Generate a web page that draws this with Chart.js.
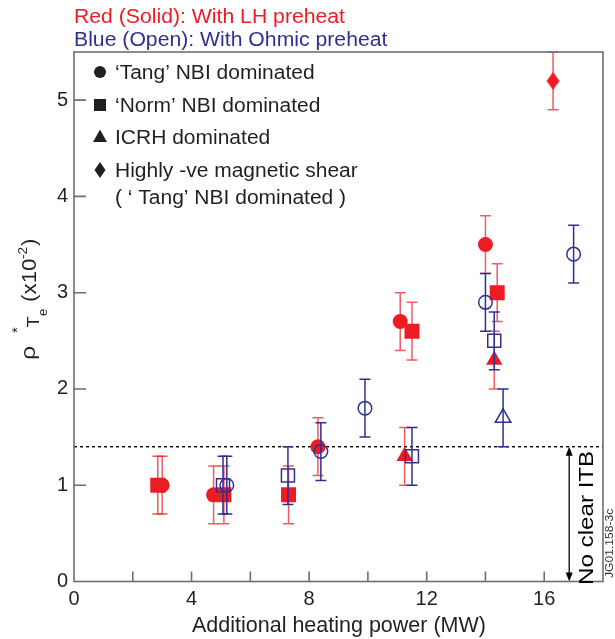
<!DOCTYPE html>
<html><head><meta charset="utf-8">
<script src="https://cdn.jsdelivr.net/npm/chart.js@4/dist/chart.umd.min.js"></script>
<style>html,body{margin:0;padding:0;background:#fff}canvas{display:block}</style>
</head><body>
<canvas id="c" width="615" height="639"></canvas>
<script>
// ---- data ----
const redCircleX = [3.0, 4.75, 8.3, 11.1, 14.0];
const redCircleY = [1.0, 0.9, 1.4, 2.7, 3.5];
const redCircleErr = [0.3, 0.3, 0.3, 0.3, 0.3];

const redSquareX = [2.85, 5.1, 7.3, 11.5, 14.4];
const redSquareY = [1.0, 0.9, 0.9, 2.6, 3.0];
const redSquareErr = [0.3, 0.3, 0.3, 0.3, 0.3];

const redTriangleX = [11.25, 14.3];
const redTriangleY = [1.3, 2.3];
const redTriangleErr = [0.3, 0.3];

const redDiamondX = [16.3];
const redDiamondY = [5.2];
const redDiamondErr = [0.3];

const blueCircleX = [5.2, 8.4, 9.9, 14.0, 17.0];
const blueCircleY = [1.0, 1.35, 1.8, 2.9, 3.4];
const blueCircleErr = [0.3, 0.3, 0.3, 0.3, 0.3];

const blueSquareX = [5.07, 7.28, 11.5, 14.3];
const blueSquareY = [1.0, 1.1, 1.3, 2.5];
const blueSquareErr = [0.3, 0.3, 0.3, 0.3];

const blueTriangleX = [14.6];
const blueTriangleY = [1.7];
const blueTriangleErr = [0.3];

const itbThreshold = 1.4;
const itbArrowX = 16.85;

const xTickLabels = [0, 4, 8, 12, 16];
const yTickLabels = [0, 1, 2, 3, 4, 5];

const titleRed = 'Red (Solid): With LH preheat';
const titleBlue = 'Blue (Open): With Ohmic preheat';
const legendLabels = ['\u2018Tang\u2019 NBI dominated', '\u2018Norm\u2019 NBI dominated', 'ICRH dominated', 'Highly -ve magnetic shear', '( \u2018 Tang\u2019 NBI dominated )'];
const xTitle = 'Additional heating power (MW)';
const itbLabel = 'No clear ITB';
const figId = 'JG01.158-3c';

// ---- styles ----
const RED = '#ed1c24';
const RED_ERR = 'rgba(237,28,36,0.72)';
const BLUE = '#2e3192';
const INK = '#231f20';
const FRAME = '#6d6e71';
const FONT = '"Liberation Sans", Arial, Helvetica, sans-serif';

function pts(xs, ys) { return xs.map((x, i) => ({ x: x, y: ys[i] })); }

// tall diamond point style
function diamondCanvas(w, h, fill) {
  const c = document.createElement('canvas');
  c.width = w + 2; c.height = h + 2;
  const g = c.getContext('2d');
  g.fillStyle = fill;
  g.beginPath();
  g.moveTo(c.width / 2, 1); g.lineTo(c.width - 1, c.height / 2);
  g.lineTo(c.width / 2, c.height - 1); g.lineTo(1, c.height / 2);
  g.closePath(); g.fill();
  return c;
}
const redDiamondImg = diamondCanvas(13, 18, RED);

function ds(label, xs, ys, errs, style, filled, color, errColor, radius, order) {
  return {
    label: label, data: pts(xs, ys), err: errs, errColor: errColor,
    pointStyle: style, pointRadius: radius, pointHoverRadius: radius,
    backgroundColor: filled ? color : 'rgba(0,0,0,0)',
    borderColor: color, borderWidth: filled ? 0 : 1.5,
    showLine: false, order: order
  };
}

const datasets = [
  ds('LH circle', redCircleX, redCircleY, redCircleErr, 'circle', true, RED, RED_ERR, 7.5, 2),
  ds('LH square', redSquareX, redSquareY, redSquareErr, 'rect', true, RED, RED_ERR, 10.6, 2),
  ds('LH triangle', redTriangleX, redTriangleY, redTriangleErr, 'triangle', true, RED, RED_ERR, 9.5, 2),
  ds('LH diamond', redDiamondX, redDiamondY, redDiamondErr, redDiamondImg, true, RED, RED_ERR, 9, 2),
  ds('Ohmic circle', blueCircleX, blueCircleY, blueCircleErr, 'circle', false, BLUE, BLUE, 6.8, 1),
  ds('Ohmic square', blueSquareX, blueSquareY, blueSquareErr, 'rect', false, BLUE, BLUE, 9.2, 1),
  ds('Ohmic triangle', blueTriangleX, blueTriangleY, blueTriangleErr, 'triangle', false, BLUE, BLUE, 9, 1)
];

function stext(ctx, s, x, y, size, color, stretch, rot) {
  ctx.save();
  ctx.translate(x, y);
  if (rot) ctx.rotate(-Math.PI / 2);
  ctx.scale(stretch || 1, 1);
  ctx.font = size + 'px ' + FONT;
  ctx.fillStyle = color;
  ctx.textBaseline = 'alphabetic';
  ctx.textAlign = 'left';
  ctx.fillText(s, 0, 0);
  ctx.restore();
}

const errorBars = {
  id: 'errorBars',
  beforeDatasetDraw(chart, args) {
    const d = chart.data.datasets[args.index];
    if (!d.err) return;
    const ctx = chart.ctx, xs = chart.scales.x, ys = chart.scales.y;
    ctx.save();
    ctx.strokeStyle = d.errColor;
    ctx.lineWidth = 1.5;
    d.data.forEach((p, i) => {
      const px = xs.getPixelForValue(p.x);
      const t = ys.getPixelForValue(p.y + d.err[i]);
      const b = ys.getPixelForValue(p.y - d.err[i]);
      ctx.beginPath();
      ctx.moveTo(px, t); ctx.lineTo(px, b);
      ctx.moveTo(px - 5.5, t); ctx.lineTo(px + 5.5, t);
      ctx.moveTo(px - 5.5, b); ctx.lineTo(px + 5.5, b);
      ctx.stroke();
    });
    ctx.restore();
  }
};

const decor = {
  id: 'decor',
  beforeDatasetsDraw(chart) {
    const ctx = chart.ctx, a = chart.chartArea, xs = chart.scales.x, ys = chart.scales.y;
    ctx.save();
    // threshold dotted line
    const yt = ys.getPixelForValue(itbThreshold);
    ctx.strokeStyle = '#000';
    ctx.lineWidth = 1.4;
    ctx.setLineDash([3, 3]);
    ctx.beginPath(); ctx.moveTo(a.left, yt); ctx.lineTo(a.right, yt); ctx.stroke();
    ctx.setLineDash([]);
    // arrow
    const xa = xs.getPixelForValue(itbArrowX);
    const y0 = ys.getPixelForValue(0);
    ctx.lineWidth = 1.3;
    ctx.beginPath(); ctx.moveTo(xa, yt + 6); ctx.lineTo(xa, y0 - 6); ctx.stroke();
    ctx.fillStyle = '#000';
    ctx.beginPath(); ctx.moveTo(xa, yt); ctx.lineTo(xa - 3.5, yt + 9); ctx.lineTo(xa + 3.5, yt + 9); ctx.closePath(); ctx.fill();
    ctx.beginPath(); ctx.moveTo(xa, y0); ctx.lineTo(xa - 3.5, y0 - 9); ctx.lineTo(xa + 3.5, y0 - 9); ctx.closePath(); ctx.fill();
    ctx.restore();
  },
  afterDraw(chart) {
    const ctx = chart.ctx, a = chart.chartArea, xs = chart.scales.x, ys = chart.scales.y;
    ctx.save();
    // frame
    ctx.strokeStyle = FRAME;
    ctx.lineWidth = 1.6;
    ctx.strokeRect(a.left, a.top, a.right - a.left, a.bottom - a.top);
    // inside ticks
    ctx.beginPath();
    xs.ticks.forEach(t => {
      if (t.value <= xs.min || t.value >= xs.max) return;
      const px = xs.getPixelForValue(t.value);
      ctx.moveTo(px, a.bottom); ctx.lineTo(px, a.bottom - 10);
    });
    ys.ticks.forEach(t => {
      if (!Number.isInteger(t.value) || t.value <= ys.min) return;
      const py = ys.getPixelForValue(t.value);
      ctx.moveTo(a.left, py); ctx.lineTo(a.left + 12, py);
    });
    ctx.stroke();

    // titles
    stext(ctx, titleRed, 74, 23, 20, RED, 1.06);
    stext(ctx, titleBlue, 74, 46, 20, BLUE, 1.06);

    // legend symbols
    ctx.fillStyle = INK;
    ctx.beginPath(); ctx.arc(100, 72, 6, 0, Math.PI * 2); ctx.fill();
    ctx.fillRect(94, 99, 12, 12);
    ctx.beginPath(); ctx.moveTo(100, 129.5); ctx.lineTo(107, 142); ctx.lineTo(93, 142); ctx.closePath(); ctx.fill();
    ctx.beginPath(); ctx.moveTo(100, 162); ctx.lineTo(105.5, 170); ctx.lineTo(100, 178); ctx.lineTo(94.5, 170); ctx.closePath(); ctx.fill();
    const lb = [79, 112, 143.5, 177, 203.5];
    legendLabels.forEach((s, i) => stext(ctx, s, 115, lb[i], 20, INK, 1.05));

    // x title
    stext(ctx, xTitle, 192, 632, 21.5, INK, 1.0);

    // y title: rho* T_e (x10^-2), rotated
    stext(ctx, '\u03C1', 35, 360, 21, INK, 1.2, true);
    stext(ctx, '*', 22, 333, 15, INK, 1, true);
    stext(ctx, 'T', 39, 327.5, 16, INK, 1.15, true);
    stext(ctx, 'e', 47, 316, 12, INK, 1.1, true);
    stext(ctx, '(x10', 36, 302, 20, INK, 1.12, true);
    stext(ctx, '-2', 27, 259, 13, INK, 1.05, true);
    stext(ctx, ')', 36, 246, 20, INK, 1.12, true);

    // ITB label and figure id
    stext(ctx, itbLabel, 593, 585, 21, '#000', 1.15, true);
    stext(ctx, figId, 613, 578, 11, '#333', 1.1, true);
    ctx.restore();
  }
};

new Chart(document.getElementById('c'), {
  type: 'scatter',
  data: { datasets: datasets },
  options: {
    responsive: false,
    animation: false,
    devicePixelRatio: 1,
    layout: { padding: { top: 52, right: 12, left: 0, bottom: 0 } },
    plugins: { legend: { display: false }, tooltip: { enabled: false }, title: { display: false } },
    scales: {
      x: {
        type: 'linear', min: 0, max: 18,
        grid: { display: false, drawTicks: false },
        border: { display: false },
        ticks: {
          stepSize: 2, padding: 6, color: INK,
          font: { family: FONT, size: 20 },
          maxRotation: 0, autoSkip: false,
          callback: v => xTickLabels.includes(v) ? String(v) : ''
        },
        afterFit: s => { s.height = 57.5; }
      },
      y: {
        type: 'linear', min: 0, max: 5.5,
        grid: { display: false, drawTicks: false },
        border: { display: false },
        ticks: {
          stepSize: 1, padding: 6, color: INK,
          font: { family: FONT, size: 20 },
          autoSkip: false,
          callback: v => yTickLabels.includes(v) ? String(v) : ''
        },
        afterFit: s => { s.width = 74; }
      }
    }
  },
  plugins: [errorBars, decor]
});
</script>
</body></html>
